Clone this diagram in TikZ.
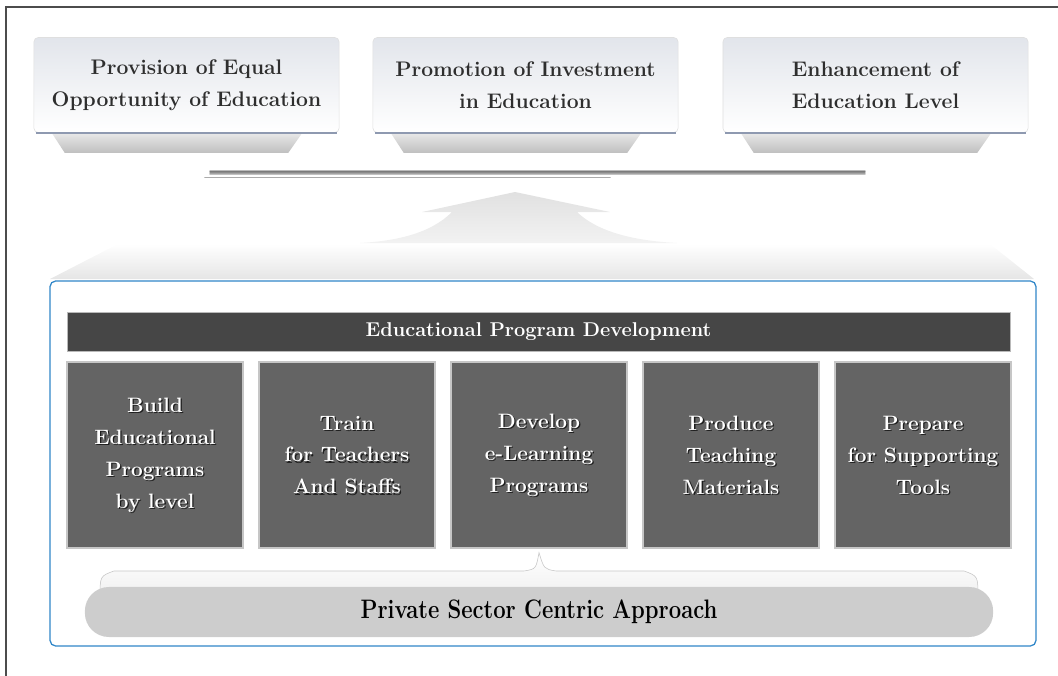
\documentclass[tikz,border=0pt]{standalone}
\usepackage{tikz}
\usetikzlibrary{positioning, calc}

\definecolor{frameblue}{HTML}{2F86C8}
\definecolor{barfill}{HTML}{464646}
\definecolor{cellfill}{HTML}{646464}
\definecolor{goaltop}{HTML}{E2E5EB}
\definecolor{goalline}{HTML}{8E99B0}
\definecolor{goaltext}{HTML}{2E2E2E}
\definecolor{pillfill}{HTML}{CDCDCD}

\tikzset{
  goal/.style={rounded corners=3pt, draw=gray!25, top color=goaltop, bottom color=white,
    minimum width=7.625cm, minimum height=2.375cm, align=center, text=goaltext,
    font=\bfseries\fontsize{15}{22.7}\selectfont},
  bar/.style={fill=barfill, draw=gray!55, minimum width=23.575cm, minimum height=0.975cm,
    text=white, font=\bfseries\fontsize{14.2}{16}\selectfont},
  cell/.style={fill=cellfill, draw=gray!45, line width=0.8pt,
    minimum width=4.4cm, minimum height=4.65cm},
  celltext/.style={align=center, font=\bfseries\fontsize{14.8}{22.7}\selectfont},
  pill/.style={fill=pillfill, rounded corners=0.6cm, minimum width=22.7cm,
    minimum height=1.25cm, font=\bfseries\fontsize{19}{22}\selectfont},
}

\begin{document}
\begin{tikzpicture}[x=0.025cm, y=-0.025cm]
    \useasboundingbox (0,0) rectangle (1058,676);

    % outer frame
    \draw[line width=1.2pt, black!70] (6,676) -- (6,7) -- (1058,7);

    % goals
    \node[goal] (equal) at (186.5,85) {Provision of Equal\\Opportunity of Education};
    \node[goal] (invest) at (525.5,85) {Promotion of Investment\\in Education};
    \node[goal] (level) at (875.5,85) {Enhancement of\\Education Level};
    \foreach \g in {equal, invest, level} {
        \shade[top color=gray!18, bottom color=gray!50]
            ($(\g.south west)+(18,0)$) -- ($(\g.south east)+(-37,0)$)
            -- ($(\g.south east)+(-51,20)$) -- ($(\g.south west)+(31,20)$) -- cycle;
        \draw[goalline, line width=1.3pt] ($(\g.south west)+(2,0)$) -- ($(\g.south east)+(-2,0)$);
    }

    % brush stroke
    \foreach \d/\op in {0/0.45, 1.2/0.75, 2.4/0.6, 3.6/0.4} {
        \draw[gray!80!black, opacity=\op, line width=1pt, line cap=round] (210,171+\d) -- (865,171+\d);
    }
    \draw[gray!80!black, opacity=0.55, line width=1.2pt, line cap=round] (205,177.5) -- (610,177.5);

    % arrow and floor
    \shade[top color=gray!24, bottom color=gray!10]
        (515,192) -- (422,212) -- (452,212) .. controls (430,234) and (395,241) .. (360,243)
        -- (677,243) .. controls (640,241) and (600,234) .. (577,212) -- (610,212) -- cycle;
    \shade[top color=white, bottom color=gray!20]
        (118,244) -- (990,244) -- (1034,279) -- (50,279) -- cycle;

    % program frame
    \draw[frameblue, line width=0.9pt, rounded corners=4pt] (50,281) rectangle (1036,646);
    \node[bar] (program) at (538.5,331.5) {Educational Program Development};

    \foreach \t [count=\i] in {{Build\\Educational\\Programs\\by level},
        {Train\\for Teachers\\And Staffs}, {Develop\\e-Learning\\Programs},
        {Produce\\Teaching\\Materials}, {Prepare\\for Supporting\\Tools}} {
        \node[cell] (task\i) at ({155+(\i-1)*192},455) {};
        \node[celltext, black, opacity=0.7] at ($(task\i)+(1.3,1.6)$) {\t};
        \node[celltext, white] at (task\i) {\t};
    }

    % approach
    \path[draw=gray!45, top color=white, bottom color=gray!12]
        (100,598) .. controls (100,576) .. (114,571) -- (524,571)
        .. controls (536,569) .. ($(task3.south)+(0,4)$)
        .. controls (544,569) .. (556,571) -- (964,571)
        .. controls (978,576) .. (978,598) -- cycle;
    \node[pill] (approach) at (539,612) {\scalebox{0.825}[1]{Private Sector Centric Approach}};
\end{tikzpicture}
\end{document}
